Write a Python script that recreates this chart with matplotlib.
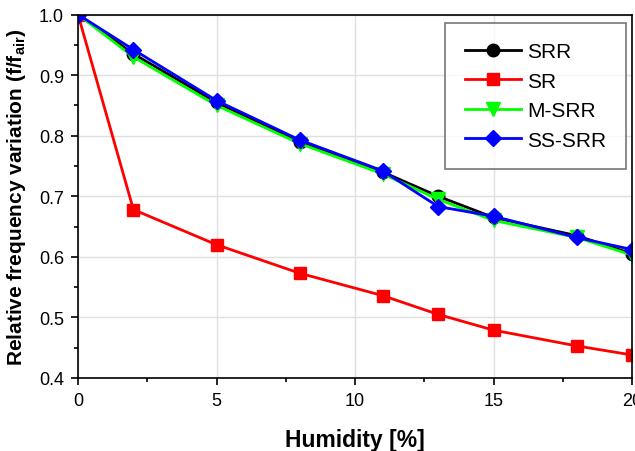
import matplotlib
matplotlib.use("Agg")
import matplotlib.pyplot as plt

plt.rcParams['font.family'] = ['Liberation Sans', 'DejaVu Sans']

humidity = [0, 2, 5, 8, 11, 13, 15, 18, 20]
srr = [1.0, 0.935, 0.855, 0.790, 0.740, 0.700, 0.665, 0.635, 0.605]
sr = [1.0, 0.678, 0.620, 0.573, 0.536, 0.505, 0.479, 0.453, 0.438]
msrr = [1.0, 0.930, 0.850, 0.787, 0.737, 0.695, 0.660, 0.632, 0.603]
sssrr = [1.0, 0.942, 0.858, 0.793, 0.742, 0.683, 0.667, 0.632, 0.612]

fig = plt.figure(figsize=(6.35, 4.52), dpi=100)
ax = fig.add_axes([78 / 635, 1 - 379 / 452, 554 / 635, 363.5 / 452])

ax.plot(humidity, srr, color="black", marker="o", ms=9, lw=2, label="SRR")
ax.plot(humidity, sr, color="red", marker="s", ms=9, lw=2, label="SR")
ax.plot(humidity, msrr, color="#00ff00", marker="v", ms=10, lw=2, label="M-SRR")
ax.plot(humidity, sssrr, color="blue", marker="D", ms=8, lw=2, label="SS-SRR")

ax.set_xlim(0, 20)
ax.set_ylim(0.4, 1.0)
ax.set_xticks([0, 5, 10, 15, 20])
ax.set_xticks([2.5, 7.5, 12.5, 17.5], minor=True)
ax.set_yticks([0.4, 0.5, 0.6, 0.7, 0.8, 0.9, 1.0])
ax.set_yticks([0.45, 0.55, 0.65, 0.75, 0.85, 0.95], minor=True)
ax.grid(True, which="major", color="#e0e0e0", lw=1)
ax.set_axisbelow(True)
ax.tick_params(which="major", direction="out", length=5, width=1.2, labelsize=13, pad=5)
ax.tick_params(which="minor", direction="out", length=3, width=1.2)
for s in ax.spines.values():
    s.set_linewidth(1.2)

ax.set_xlabel("Humidity [%]", fontsize=16.5, fontweight="bold", labelpad=14)
ax.set_ylabel(r"Relative frequency variation (f/f$_{\mathregular{air}}$)",
              fontsize=15, fontweight="bold", labelpad=8)

leg = ax.legend(loc="upper right", fontsize=15, fancybox=False, edgecolor="#555555",
                borderpad=0.95, labelspacing=0.5, handlelength=2.7, handletextpad=0.3,
                borderaxespad=0, bbox_to_anchor=(548 / 554, 355.5 / 363.5))
leg.get_frame().set_linewidth(1.2)

fig.savefig("out.png", dpi=100)
